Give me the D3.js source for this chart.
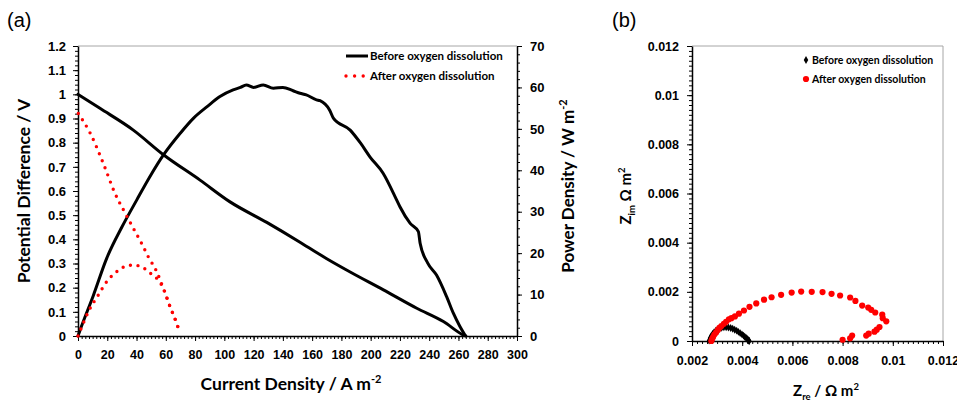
<!DOCTYPE html>
<html>
<head>
<meta charset="utf-8">
<script src="https://cdn.jsdelivr.net/npm/d3@7"></script>
<style>
  body { margin: 0; background: #fff; }
  svg { display: block; font-family: Lato, "Open Sans", sans-serif; }
  .tick text { font-weight: bold; }
</style>
</head>
<body>
<div id="chart"></div>
<script>
// (a) polarisation + power curves
const beforeCurrentV = [0, 15, 37.8, 58.4, 83.4, 103.9, 129, 151.7, 165, 170, 186, 208.7, 231.5, 249.7, 263.4, 265]
const beforeVoltage  = [1.0, 0.942, 0.852, 0.75, 0.645, 0.555, 0.47, 0.388, 0.338, 0.32, 0.265, 0.191, 0.115, 0.06, 0.004, 0]

const beforeCurrentP = [0, 1.4, 10.5, 19.6, 30, 40.1, 49.2, 58.4, 70, 79, 88, 97, 106, 111, 115, 120, 126.6, 133.5, 140, 147, 151.7, 156, 163, 165.4, 172, 174.5, 186, 193, 199.6, 208.5, 217.8, 220, 227, 232.6, 233.8, 239, 245, 251.9, 256.5, 261, 264.5]
const beforePower    = [0, 1.4, 9.8, 18.75, 26.3, 32.8, 38.5, 43.7, 49, 52.6, 55.3, 57.8, 59.4, 60.0, 60.6, 60.0, 60.6, 59.8, 60.0, 59.2, 58.6, 58.2, 57.0, 56.8, 54.5, 52.6, 49.7, 46.6, 43.2, 39.3, 32.8, 31.2, 27.2, 25.2, 22.4, 17.6, 14.7, 9.5, 5.5, 2.3, 0.2]

const afterCurrentV = [0.2, 8.7, 17.3, 25.3, 32.1, 37.8, 43.5, 48, 53.8, 58.3, 62.9, 67.4, 69.7]
const afterVoltage  = [0.921, 0.835, 0.714, 0.59, 0.51, 0.446, 0.383, 0.328, 0.266, 0.197, 0.121, 0.053, 0.011]

const afterCurrentP = [0, 1.4, 7.7, 13.9, 19.6, 26.4, 31.4, 36.7, 42.4, 46.9, 51, 54.9, 58.3, 62.9, 67.4, 69.7]
const afterPower    = [0, 1.2, 6.3, 9.9, 13.1, 15.5, 16.7, 17.1, 16.9, 15.9, 14.7, 13.5, 11.5, 7.1, 3.1, 0.6]

const currentTicks   = [0, 20, 40, 60, 80, 100, 120, 140, 160, 180, 200, 220, 240, 260, 280, 300]
const potentialTicks = [0, 0.1, 0.2, 0.3, 0.4, 0.5, 0.6, 0.7, 0.8, 0.9, 1, 1.1, 1.2]
const powerTicks     = [0, 10, 20, 30, 40, 50, 60, 70]

// (b) Nyquist plot
const eisBeforeRe = [0.00268, 0.00272, 0.00277, 0.00282, 0.00288, 0.00295, 0.00302, 0.0031, 0.00318, 0.00327, 0.00336, 0.00345, 0.00354, 0.00362, 0.0037, 0.00378, 0.00385, 0.00392, 0.00399, 0.00405, 0.0041, 0.00415, 0.00419, 0.00422, 0.00425, 0.00427, 0.00428]
const eisBeforeIm = [0.00002, 0.00012, 0.00021, 0.00029, 0.00036, 0.00042, 0.00047, 0.00051, 0.00054, 0.00056, 0.00056, 0.00055, 0.00053, 0.0005, 0.00046, 0.00042, 0.00037, 0.00032, 0.00027, 0.00022, 0.00017, 0.00013, 0.00009, 0.00006, 0.00003, 0.00001, 0]

const eisAfterRe = [0.00277, 0.0028, 0.00284, 0.00289, 0.00296, 0.00303, 0.00309, 0.00317, 0.00327, 0.00336, 0.00347, 0.00357, 0.00371, 0.00387, 0.00407, 0.00429, 0.00456, 0.00487, 0.00517, 0.00555, 0.00597, 0.00635, 0.00677, 0.0072, 0.00756, 0.0079, 0.0083, 0.00851, 0.00878, 0.00902, 0.00914, 0.0093, 0.00958, 0.0096, 0.00974, 0.00947, 0.00936, 0.00927, 0.00904, 0.00894, 0.00838, 0.0083, 0.008]
const eisAfterIm = [0, 0.00008, 0.00016, 0.00026, 0.00035, 0.00045, 0.00053, 0.00061, 0.0007, 0.00078, 0.00088, 0.00093, 0.001, 0.00111, 0.00124, 0.00139, 0.00153, 0.00168, 0.00178, 0.00188, 0.00197, 0.00201, 0.002, 0.00199, 0.00192, 0.00185, 0.00177, 0.00163, 0.00144, 0.00136, 0.00127, 0.00116, 0.00107, 0.00093, 0.0008, 0.00057, 0.00046, 0.00038, 0.0003, 0.00022, 0.00022, 0.00011, 0.00005]

const zTicks = [0.002, 0.004, 0.006, 0.008, 0.01, 0.012]
const zImTicks = [0, 0.002, 0.004, 0.006, 0.008, 0.01, 0.012]

const legendLabels = ['Before oxygen dissolution', 'After oxygen dissolution']

const width = 957
const height = 404

const svg = d3.select('#chart')
  .append('svg')
  .attr('width', width)
  .attr('height', height)

const zip = (xs, ys) => xs.map((x, i) => [x, ys[i]])

// ---------- panel (a) ----------
const a = { left: 78, right: 517, top: 46, bottom: 336 }

const x = d3.scaleLinear().domain([0, 300]).range([a.left, a.right])
const yV = d3.scaleLinear().domain([0, 1.2]).range([a.bottom, a.top])
const yP = d3.scaleLinear().domain([0, 70]).range([a.bottom, a.top])

const pa = svg.append('g')

// grey top border
pa.append('line')
  .attr('x1', a.left).attr('x2', a.right)
  .attr('y1', a.top).attr('y2', a.top)
  .attr('stroke', '#a6a6a6')

function styleAxis(g, size) {
  g.select('.domain').attr('stroke', '#000').attr('stroke-width', 1.5)
  g.selectAll('.tick line').attr('stroke', '#000')
  g.selectAll('.tick text').attr('fill', '#000').style('font-size', size + 'px')
}

function minor(g) {
  g.select('.domain').remove()
  g.selectAll('line').attr('stroke', '#000')
}

// minor ticks
pa.append('g')
  .attr('transform', `translate(0,${a.bottom})`)
  .call(d3.axisBottom(x).tickValues(d3.range(0, 300.1, 2.5)).tickSize(3).tickFormat(''))
  .call(minor)
pa.append('g')
  .attr('transform', `translate(${a.left},0)`)
  .call(d3.axisLeft(yV).tickValues(d3.range(0, 1.201, 0.02)).tickSize(3).tickFormat(''))
  .call(minor)
pa.append('g')
  .attr('transform', `translate(${a.right},0)`)
  .call(d3.axisRight(yP).tickValues(d3.range(0, 70.1, 2)).tickSize(3).tickFormat(''))
  .call(minor)

pa.append('g')
  .attr('transform', `translate(0,${a.bottom})`)
  .call(d3.axisBottom(x).tickValues(currentTicks).tickSize(5).tickSizeOuter(0).tickPadding(9))
  .call(g => styleAxis(g, 12.5))
pa.append('g')
  .attr('transform', `translate(${a.left},0)`)
  .call(d3.axisLeft(yV).tickValues(potentialTicks).tickSize(5).tickSizeOuter(0).tickPadding(7).tickFormat(d3.format('.1~f')))
  .call(g => styleAxis(g, 13))
pa.append('g')
  .attr('transform', `translate(${a.right},0)`)
  .call(d3.axisRight(yP).tickValues(powerTicks).tickSize(5).tickSizeOuter(0).tickPadding(8))
  .call(g => styleAxis(g, 13))

const lineV = d3.line().curve(d3.curveMonotoneX).x(d => x(d[0])).y(d => yV(d[1]))
const lineP = d3.line().curve(d3.curveMonotoneX).x(d => x(d[0])).y(d => yP(d[1]))

const curves = [
  { d: lineV(zip(beforeCurrentV, beforeVoltage)), dot: false },
  { d: lineP(zip(beforeCurrentP, beforePower)), dot: false },
  { d: lineV(zip(afterCurrentV, afterVoltage)), dot: true },
  { d: lineP(zip(afterCurrentP, afterPower)), dot: true }
]
pa.append('g').selectAll('path')
  .data(curves)
  .join('path')
  .attr('d', d => d.d)
  .attr('fill', 'none')
  .attr('stroke', d => d.dot ? '#ff0000' : '#000')
  .attr('stroke-width', d => d.dot ? 3.4 : 3)
  .attr('stroke-linecap', 'round')
  .attr('stroke-linejoin', 'round')
  .attr('stroke-dasharray', d => d.dot ? '0 7.6' : null)

// legend (a)
const la = pa.append('g')
la.append('line')
  .attr('x1', 346).attr('x2', 368).attr('y1', 56).attr('y2', 56)
  .attr('stroke', '#000').attr('stroke-width', 3)
la.append('line')
  .attr('x1', 346).attr('x2', 364).attr('y1', 76).attr('y2', 76)
  .attr('stroke', '#ff0000').attr('stroke-width', 3.4)
  .attr('stroke-linecap', 'round').attr('stroke-dasharray', '0 8.6')
la.selectAll('text')
  .data(legendLabels)
  .join('text')
  .attr('x', 370)
  .attr('y', (d, i) => 60 + i * 20)
  .style('font-size', '11.5px')
  .style('font-weight', 'bold')
  .text(d => d)

// axis titles (a)
pa.append('text')
  .attr('transform', `translate(30,${(a.top + a.bottom) / 2}) rotate(-90)`)
  .attr('text-anchor', 'middle')
  .style('font-size', '17.5px').style('font-weight', 'bold')
  .text('Potential Difference / V')

const pt = pa.append('text')
  .attr('transform', `translate(574,${(a.top + a.bottom) / 2 - 5}) rotate(-90)`)
  .attr('text-anchor', 'middle')
  .style('font-size', '17px').style('font-weight', 'bold')
pt.append('tspan').text('Power Density / W m')
pt.append('tspan').attr('dy', -7).style('font-size', '11px').text('-2')

const xt = pa.append('text')
  .attr('x', 291).attr('y', 390)
  .attr('text-anchor', 'middle')
  .style('font-size', '17.5px').style('font-weight', 'bold')
xt.append('tspan').text('Current Density / A m')
xt.append('tspan').attr('dy', -7).style('font-size', '11px').text('-2')

// ---------- panel (b) ----------
const b = { left: 692, right: 943, top: 46, bottom: 341 }
const zx = d3.scaleLinear().domain([0.002, 0.012]).range([b.left, b.right])
const zy = d3.scaleLinear().domain([0, 0.012]).range([b.bottom, b.top])

const pb = svg.append('g')
pb.append('path')
  .attr('d', `M${b.left},${b.top}H${b.right}V${b.bottom}`)
  .attr('fill', 'none')
  .attr('stroke', '#a6a6a6')

pb.append('g')
  .attr('transform', `translate(0,${b.bottom})`)
  .call(d3.axisBottom(zx).tickValues(d3.range(0.002, 0.01201, 0.0002)).tickSize(3).tickFormat(''))
  .call(minor)
pb.append('g')
  .attr('transform', `translate(${b.left},0)`)
  .call(d3.axisLeft(zy).tickValues(d3.range(0, 0.01201, 0.0002)).tickSize(3).tickFormat(''))
  .call(minor)

pb.append('g')
  .attr('transform', `translate(0,${b.bottom})`)
  .call(d3.axisBottom(zx).tickValues(zTicks).tickSize(5).tickSizeOuter(0).tickPadding(10).tickFormat(d3.format('.3~f')))
  .call(g => styleAxis(g, 12.5))
pb.append('g')
  .attr('transform', `translate(${b.left},0)`)
  .call(d3.axisLeft(zy).tickValues(zImTicks).tickSize(5).tickSizeOuter(0).tickPadding(8).tickFormat(d3.format('.3~f')))
  .call(g => styleAxis(g, 12.5))

const diamond = d3.symbol().type(d3.symbolDiamond).size(18)
pb.append('g').selectAll('path')
  .data(zip(eisBeforeRe, eisBeforeIm))
  .join('path')
  .attr('transform', d => `translate(${zx(d[0])},${zy(d[1])})`)
  .attr('d', diamond)
  .attr('fill', '#000')

pb.append('g').selectAll('circle')
  .data(zip(eisAfterRe, eisAfterIm))
  .join('circle')
  .attr('cx', d => zx(d[0]))
  .attr('cy', d => zy(d[1]))
  .attr('r', 3.1)
  .attr('fill', '#ff0000')

// legend (b)
const lb = pb.append('g')
lb.append('path')
  .attr('transform', 'translate(806,60)')
  .attr('d', diamond)
  .attr('fill', '#000')
lb.append('circle')
  .attr('cx', 806).attr('cy', 79).attr('r', 3.1)
  .attr('fill', '#ff0000')
lb.selectAll('text')
  .data(legendLabels)
  .join('text')
  .attr('x', 812)
  .attr('y', (d, i) => 64 + i * 19)
  .style('font-size', '10.5px')
  .style('font-weight', 'bold')
  .text(d => d)

const zi = pb.append('text')
  .attr('transform', 'translate(631,196) rotate(-90)')
  .attr('text-anchor', 'middle')
  .style('font-size', '15px').style('font-weight', 'bold')
zi.append('tspan').text('Z')
zi.append('tspan').attr('dy', 4).style('font-size', '9.5px').text('im')
zi.append('tspan').attr('dy', -4).text(' Ω m')
zi.append('tspan').attr('dy', -6).style('font-size', '9.5px').text('2')

const zr = pb.append('text')
  .attr('x', 826).attr('y', 396)
  .attr('text-anchor', 'middle')
  .style('font-size', '15px').style('font-weight', 'bold')
zr.append('tspan').text('Z')
zr.append('tspan').attr('dy', 4).style('font-size', '9.5px').text('re')
zr.append('tspan').attr('dy', -4).text(' / Ω m')
zr.append('tspan').attr('dy', -6).style('font-size', '9.5px').text('2')

// panel letters
svg.append('text').attr('x', 7).attr('y', 27)
  .style('font-family', '"Liberation Sans", Arial, sans-serif')
  .style('font-size', '20px').text('(a)')
svg.append('text').attr('x', 612).attr('y', 27)
  .style('font-family', '"Liberation Sans", Arial, sans-serif')
  .style('font-size', '20px').text('(b)')
</script>
</body>
</html>
